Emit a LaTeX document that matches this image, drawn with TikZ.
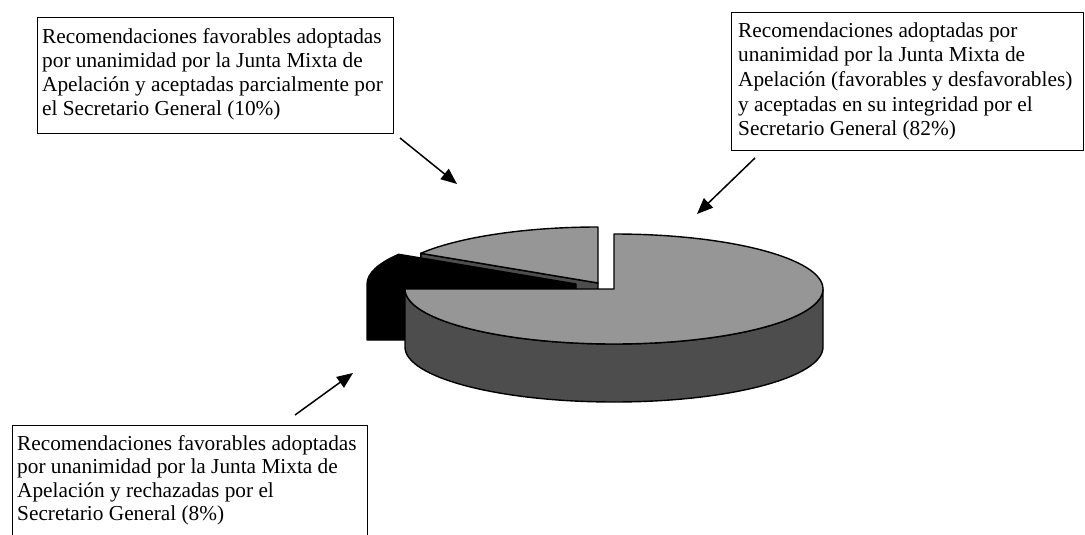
\documentclass[tikz,border=0pt]{standalone}
\usepackage{fontspec}
\setmainfont{Liberation Serif}
\usetikzlibrary{arrows.meta}
\definecolor{pietop}{RGB}{150,150,150}
\definecolor{pieside}{RGB}{77,77,77}
\begin{document}
\begin{tikzpicture}[x=1pt,y=1pt,
  frame/.style={draw, line width=1.3pt, inner sep=0pt, anchor=north west},
  lbl/.style={anchor=north west, inner sep=0pt, align=left},
  pointer/.style={line width=1.5pt, -{Triangle[length=16pt,width=13pt]}},
  pieedge/.style={draw=black, line width=1.4pt, line join=round}]
\useasboundingbox (0,0) rectangle (1085,-535);

% frames
\node[frame, minimum width=356pt, minimum height=116pt] (box1) at (37,-17) {};
\node[frame, minimum width=352pt, minimum height=138pt] (box2) at (731,-12) {};
\node[frame, minimum width=355pt, minimum height=130pt] (box3) at (12,-425) {};

% texts
\node[lbl, font=\fontsize{21.3}{24}\selectfont] (t1) at (42,-26.2)
 {\strut Recomendaciones favorables adoptadas\\por unanimidad por la Junta Mixta de\\Apelación y aceptadas parcialmente por\\el Secretario General (10\%)};
\node[lbl, font=\fontsize{21.3}{24.7}\selectfont] (t2) at (738,-19.7)
 {\strut Recomendaciones adoptadas por\\unanimidad por la Junta Mixta de\\Apelación (favorables y desfavorables)\\y aceptadas en su integridad por el\\Secretario General (82\%)};
\node[lbl, font=\fontsize{21.3}{23.5}\selectfont] (t3) at (17,-433.5)
 {\strut Recomendaciones favorables adoptadas\\por unanimidad por la Junta Mixta de\\Apelación y rechazadas por el\\Secretario General (8\%)};

% pie: 10% slice
\path[pieedge, fill=pieside] (598,-283) -- (420.8,-253.3) -- (420.8,-311.3) -- (598,-341) -- cycle;
\path[pieedge, fill=pietop] (598,-283) -- (598,-227)
  arc[start angle=90, end angle=148, x radius=209, y radius=56] -- cycle;
% 8% slice
\path[pieedge, fill=black] (576,-284) -- (398.8,-254.3)
  arc[start angle=148, end angle=180, x radius=209, y radius=56]
  -- (367,-340) -- (576,-340) -- cycle;
% 82% slice
\path[pieedge, fill=pieside] (823,-289) -- (823,-347)
  arc[start angle=0, end angle=-180, x radius=209, y radius=55]
  -- (405,-289) arc[start angle=180, end angle=360, x radius=209, y radius=55] -- cycle;
\path[pieedge, fill=pietop] (614,-289) -- (614,-234)
  arc[start angle=90, end angle=-180, x radius=209, y radius=55] -- cycle;

% pointers
\coordinate (a1s) at (400,-138);
\coordinate (a1e) at (457,-184);
\coordinate (a2s) at (755,-158);
\coordinate (a2e) at (697,-214);
\coordinate (a3s) at (295,-415);
\coordinate (a3e) at (353,-373);
\draw[pointer] (a1s) -- (a1e);
\draw[pointer] (a2s) -- (a2e);
\draw[pointer] (a3s) -- (a3e);
\end{tikzpicture}
\end{document}
